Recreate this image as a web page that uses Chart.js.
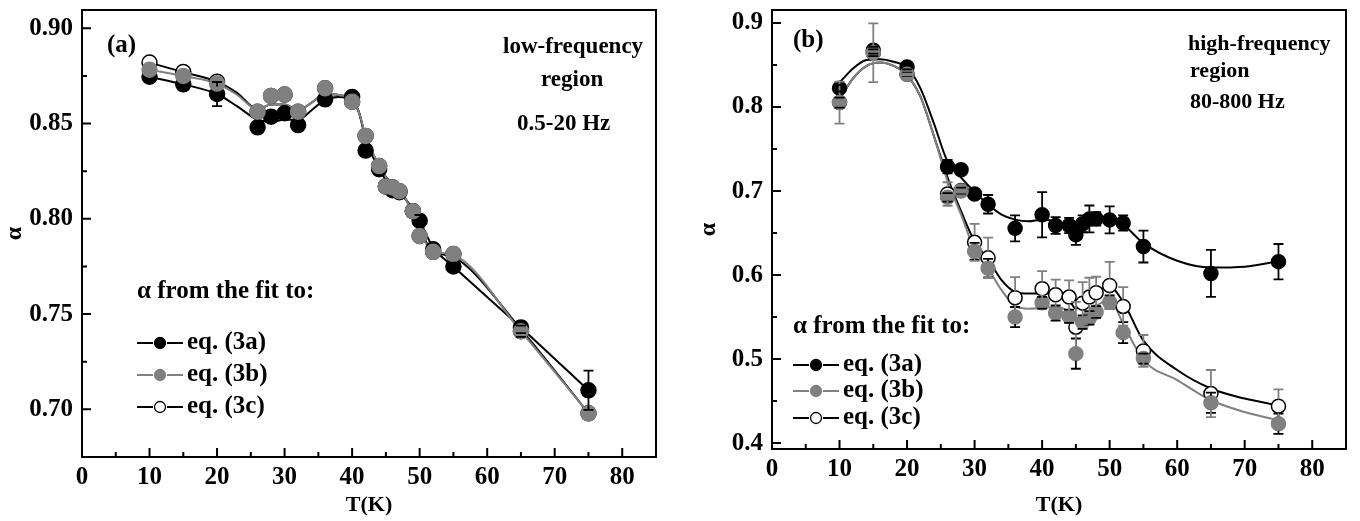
<!DOCTYPE html>
<html>
<head>
<meta charset="utf-8">
<script src="https://cdn.jsdelivr.net/npm/chart.js@4.4.1/dist/chart.umd.min.js"></script>
<style>
  html, body { margin: 0; padding: 0; background: #fff; }
  .wrap { position: absolute; top: 0; width: 680px; height: 521px; }
  #wa { left: 0; }
  #wb { left: 680px; }
</style>
</head>
<body>
<div class="wrap" id="wa"><canvas id="chartA" width="680" height="521"></canvas></div>
<div class="wrap" id="wb"><canvas id="chartB" width="680" height="521"></canvas></div>
<script>
// axis ticks
var tTicks = [0, 10, 20, 30, 40, 50, 60, 70, 80];
var tMinor = [5, 15, 25, 35, 45, 55, 65, 75];
var alphaTicksA = [0.70, 0.75, 0.80, 0.85, 0.90];
var alphaMinorA = [0.725, 0.775, 0.825, 0.875];
var alphaTicksB = [0.4, 0.5, 0.6, 0.7, 0.8, 0.9];
var alphaMinorB = [0.45, 0.55, 0.65, 0.75, 0.85];

// (a) low-frequency region, 0.5-20 Hz
var tA      = [10, 15, 20, 26, 28, 30, 32, 36, 40, 42, 44, 45, 46, 47, 49, 50, 52, 55, 65, 75];
var a3a     = [0.8746, 0.8706, 0.8655, 0.848, 0.8536, 0.8554, 0.8492, 0.8627, 0.864, 0.8358, 0.826, 0.817, 0.815, 0.814, 0.804, 0.799, 0.784, 0.775, 0.743, 0.710];
var a3aErr  = [0, 0, 0.0063, 0, 0, 0, 0, 0, 0, 0, 0, 0, 0, 0, 0, 0.003, 0, 0.002, 0.003, 0.0103];
var a3b     = [0.8783, 0.875, 0.871, 0.8562, 0.8645, 0.8652, 0.8562, 0.8685, 0.8615, 0.8435, 0.8277, 0.817, 0.8165, 0.8145, 0.804, 0.791, 0.7827, 0.7815, 0.741, 0.6979];
var a3bErr  = [0, 0, 0, 0, 0, 0, 0, 0, 0, 0, 0, 0, 0, 0, 0, 0, 0, 0, 0.003, 0];
var a3c     = [0.882, 0.877, 0.872, 0.8562, 0.8645, 0.8652, 0.8562, 0.8685, 0.8615, 0.8435, 0.8277, 0.817, 0.8165, 0.8145, 0.804, 0.791, 0.7827, 0.7815, 0.741, 0.6979];

// (a) smoothed lines through the points
var lineTA  = [10, 15, 20, 23, 26, 28, 30, 32, 34, 36, 38, 40, 41, 42, 44, 46, 48, 50, 52, 55, 65, 75];
var line3aA = [0.8746, 0.8706, 0.8655, 0.859, 0.852, 0.851, 0.852, 0.852, 0.857, 0.8625, 0.864, 0.862, 0.856, 0.842, 0.826, 0.816, 0.810, 0.799, 0.785, 0.775, 0.743, 0.710];
var line3bA = [0.8783, 0.875, 0.871, 0.865, 0.8575, 0.860, 0.860, 0.857, 0.861, 0.8655, 0.865, 0.8625, 0.856, 0.8435, 0.828, 0.817, 0.810, 0.793, 0.783, 0.781, 0.741, 0.698];
var line3cA = [0.882, 0.877, 0.872, 0.866, 0.8575, 0.860, 0.860, 0.857, 0.861, 0.8655, 0.865, 0.8625, 0.856, 0.843, 0.828, 0.817, 0.810, 0.794, 0.783, 0.780, 0.742, 0.698];

// (b) high-frequency region, 80-800 Hz
var tB      = [10, 15, 20, 26, 28, 30, 32, 36, 40, 42, 44, 45, 46, 47, 48, 50, 52, 55, 65, 75];
var b3a     = [0.8225, 0.8676, 0.8478, 0.729, 0.7254, 0.6966, 0.6843, 0.6556, 0.6718, 0.659, 0.659, 0.648, 0.661, 0.6668, 0.667, 0.6657, 0.662, 0.634, 0.602, 0.616];
var b3aErr  = [0.004, 0.004, 0.003, 0.008, 0.004, 0.003, 0.011, 0.0155, 0.027, 0.01, 0.009, 0.012, 0.01, 0.016, 0.008, 0.016, 0.009, 0.019, 0.028, 0.021];
var b3b     = [0.8053, 0.8647, 0.839, 0.6925, 0.700, 0.6284, 0.6082, 0.550, 0.567, 0.5548, 0.551, 0.5065, 0.544, 0.549, 0.556, 0.5678, 0.5315, 0.5006, 0.448, 0.423];
var b3bErr  = [0.006, 0.004, 0.003, 0.005, 0.004, 0.01, 0.011, 0.012, 0.007, 0.009, 0.008, 0.018, 0.008, 0.008, 0.007, 0.008, 0.0125, 0.006, 0.012, 0.012];
var b3c     = [0.8053, 0.8647, 0.839, 0.6965, 0.7007, 0.639, 0.6205, 0.573, 0.5837, 0.5766, 0.5738, 0.538, 0.5666, 0.5738, 0.579, 0.5876, 0.5627, 0.5097, 0.459, 0.444];
var b3cErr  = [0.025, 0.035, 0.004, 0.014, 0.006, 0.022, 0.024, 0.0245, 0.021, 0.018, 0.02, 0.03, 0.025, 0.023, 0.019, 0.028, 0.023, 0.019, 0.028, 0.02];

// (b) fitted curves
var fitTB   = [10, 12, 14, 16, 18, 20, 22, 24, 26, 28, 30, 32, 34, 36, 38, 40, 42, 44, 45, 46, 48, 50, 52, 55, 60, 65, 70, 75];
var fit3aB  = [0.829, 0.846, 0.856, 0.857, 0.854, 0.847, 0.822, 0.780, 0.735, 0.716, 0.699, 0.684, 0.672, 0.666, 0.664, 0.666, 0.664, 0.657, 0.653, 0.660, 0.668, 0.668, 0.660, 0.638, 0.617, 0.609, 0.610, 0.6165];
var fit3bB  = [0.809, 0.834, 0.849, 0.853, 0.849, 0.838, 0.812, 0.765, 0.712, 0.672, 0.630, 0.608, 0.582, 0.563, 0.560, 0.561, 0.562, 0.556, 0.546, 0.550, 0.563, 0.571, 0.542, 0.499, 0.475, 0.451, 0.437, 0.427];
var fit3cB  = [0.809, 0.834, 0.849, 0.853, 0.849, 0.838, 0.812, 0.765, 0.716, 0.676, 0.640, 0.619, 0.594, 0.580, 0.578, 0.578, 0.578, 0.570, 0.560, 0.566, 0.580, 0.586, 0.568, 0.522, 0.487, 0.465, 0.453, 0.445];

var GRAY = '#808080';
var serif = '"Liberation Serif", "Times New Roman", serif';

function pts(xs, ys) {
  return xs.map(function (x, i) { return { x: x, y: ys[i] }; });
}

function curve(xs, ys, color, order) {
  return {
    data: pts(xs, ys), showLine: true, pointRadius: 0, borderColor: color,
    borderWidth: 2, cubicInterpolationMode: 'monotone', order: order
  };
}

function marks(xs, ys, fill, edge, r, order, errs, errColor) {
  return {
    data: pts(xs, ys), showLine: false, pointRadius: r, pointHoverRadius: r,
    backgroundColor: fill, borderColor: edge, borderWidth: 1.5, order: order,
    errBars: errs ? { values: errs, color: errColor } : null
  };
}

// vertical error bars with caps, left open inside the marker
var errorBars = {
  id: 'errorBars',
  afterDatasetsDraw: function (chart) {
    var ctx = chart.ctx, xs = chart.scales.x, ys = chart.scales.y;
    ctx.save();
    ctx.lineWidth = 1.8;
    chart.data.datasets.forEach(function (ds) {
      if (!ds.errBars) return;
      ctx.strokeStyle = ds.errBars.color;
      ds.data.forEach(function (p, j) {
        var e = ds.errBars.values[j];
        if (!e) return;
        var px = xs.getPixelForValue(p.x);
        var py = ys.getPixelForValue(p.y);
        var top = ys.getPixelForValue(p.y + e);
        var bot = ys.getPixelForValue(p.y - e);
        var r = ds.pointRadius;
        ctx.beginPath();
        if (py - top > r) { ctx.moveTo(px, py - r); ctx.lineTo(px, top); }
        if (bot - py > r) { ctx.moveTo(px, py + r); ctx.lineTo(px, bot); }
        ctx.moveTo(px - 5, top); ctx.lineTo(px + 5, top);
        ctx.moveTo(px - 5, bot); ctx.lineTo(px + 5, bot);
        ctx.stroke();
      });
    });
    ctx.restore();
  }
};

// box frame, inward ticks, notes and the legend
var frameNotes = {
  id: 'frameNotes',
  afterDraw: function (chart, args, o) {
    var ctx = chart.ctx, a = chart.chartArea;
    var xs = chart.scales.x, ys = chart.scales.y;
    ctx.save();
    ctx.strokeStyle = '#000';
    ctx.lineWidth = 2;
    ctx.strokeRect(a.left, a.top, a.right - a.left, a.bottom - a.top);
    ctx.beginPath();
    tTicks.forEach(function (v) { var p = xs.getPixelForValue(v); ctx.moveTo(p, a.bottom); ctx.lineTo(p, a.bottom - 9); });
    tMinor.forEach(function (v) { var p = xs.getPixelForValue(v); ctx.moveTo(p, a.bottom); ctx.lineTo(p, a.bottom - 5); });
    o.yMajor.forEach(function (v) { var p = ys.getPixelForValue(v); ctx.moveTo(a.left, p); ctx.lineTo(a.left + 9, p); });
    o.yMinor.forEach(function (v) { var p = ys.getPixelForValue(v); ctx.moveTo(a.left, p); ctx.lineTo(a.left + 5, p); });
    ctx.stroke();

    ctx.fillStyle = '#000';
    ctx.textBaseline = 'middle';
    ctx.textAlign = 'left';
    o.texts.forEach(function (t) {
      ctx.font = 'bold ' + t[3] + 'px ' + serif;
      ctx.fillText(t[0], t[1], t[2]);
    });

    var L = o.legend;
    ctx.font = 'bold 25px ' + serif;
    ctx.fillText('\u03b1 from the fit to:', L.x, L.head);
    L.items.forEach(function (it, i) {
      var y = L.rows[i];
      ctx.strokeStyle = it.line;
      ctx.lineWidth = 2;
      ctx.beginPath();
      ctx.moveTo(L.x, y); ctx.lineTo(L.x + 16, y);
      ctx.moveTo(L.x + 30, y); ctx.lineTo(L.x + 46, y);
      ctx.stroke();
      ctx.beginPath();
      ctx.arc(L.x + 23, y, 5.5, 0, Math.PI * 2);
      ctx.fillStyle = it.fill;
      ctx.fill();
      ctx.lineWidth = 1.3;
      ctx.strokeStyle = it.edge;
      ctx.stroke();
      ctx.fillStyle = '#000';
      ctx.fillText(it.label, L.x + 50, y);
    });
    ctx.restore();
  }
};

var legendItems = [
  { label: 'eq. (3a)', line: '#000', fill: '#000', edge: '#000' },
  { label: 'eq. (3b)', line: GRAY, fill: GRAY, edge: GRAY },
  { label: 'eq. (3c)', line: '#000', fill: '#fff', edge: '#000' }
];

// keep the plot box fixed: no extra room for edge tick labels
function noEdgePadding(s) {
  s.paddingTop = 0; s.paddingBottom = 0; s.paddingLeft = 0; s.paddingRight = 0;
}

function makeChart(id, cfg) {
  return new Chart(document.getElementById(id), {
    type: 'scatter',
    data: { datasets: cfg.datasets },
    plugins: [errorBars, frameNotes],
    options: {
      responsive: false,
      animation: false,
      layout: { padding: { top: 10, right: cfg.padRight, left: 0, bottom: 0 } },
      plugins: {
        legend: { display: false },
        tooltip: { enabled: false },
        frameNotes: { yMajor: cfg.yTicks, yMinor: cfg.yMinor, texts: cfg.texts, legend: cfg.legend }
      },
      scales: {
        x: {
          type: 'linear', min: 0, max: 85,
          afterBuildTicks: function (s) { s.ticks = tTicks.map(function (v) { return { value: v }; }); },
          afterFit: function (s) { s.height = cfg.xHeight; noEdgePadding(s); },
          grid: { display: false, drawTicks: false },
          border: { display: false },
          ticks: { color: '#000', padding: 6, maxRotation: 0, font: { family: serif, size: 25, weight: 'bold' } },
          title: { display: true, text: 'T(K)', color: '#000', padding: { top: 0, bottom: cfg.xTitlePad },
                   font: { family: serif, size: 22, weight: 'bold' } }
        },
        y: {
          type: 'linear', min: cfg.yMin, max: cfg.yMax,
          afterBuildTicks: function (s) { s.ticks = cfg.yTicks.map(function (v) { return { value: v }; }); },
          afterFit: function (s) { s.width = cfg.yWidth; noEdgePadding(s); },
          grid: { display: false, drawTicks: false },
          border: { display: false },
          ticks: { color: '#000', padding: 9, font: { family: serif, size: 25, weight: 'bold' },
                   callback: function (v) { return v.toFixed(cfg.digits); } },
          title: { display: true, text: '\u03b1', color: '#000', padding: { top: cfg.yTitlePad, bottom: 0 },
                   font: { family: serif, size: 24, weight: 'bold' } }
        }
      }
    }
  });
}

makeChart('chartA', {
  padRight: 24, xHeight: 64, yWidth: 82, yMin: 0.675, yMax: 0.9096, digits: 2,
  yTicks: alphaTicksA, yMinor: alphaMinorA, xTitlePad: 2, yTitlePad: 0,
  datasets: [
    marks(tA, a3b, GRAY, GRAY, 7.5, 1, a3bErr, '#000'),
    marks(tA, a3c, '#fff', '#000', 7.5, 2, null, null),
    marks(tA, a3a, '#000', '#000', 7.5, 3, a3aErr, '#000'),
    curve(lineTA, line3bA, GRAY, 10),
    curve(lineTA, line3cA, '#000', 11),
    curve(lineTA, line3aA, '#000', 12)
  ],
  texts: [['(a)', 107, 46, 25], ['low-frequency', 503, 47, 23], ['region', 541, 80, 23], ['0.5-20 Hz', 517, 124, 23]],
  legend: { x: 137, head: 292, rows: [343, 375, 407], items: legendItems }
});

makeChart('chartB', {
  padRight: 14, xHeight: 72, yWidth: 92, yMin: 0.393, yMax: 0.9155, digits: 1,
  yTicks: alphaTicksB, yMinor: alphaMinorB, xTitlePad: 2, yTitlePad: 14,
  datasets: [
    marks(tB, b3b, GRAY, GRAY, 7, 1, b3bErr, '#000'),
    marks(tB, b3c, '#fff', '#000', 7, 2, b3cErr, GRAY),
    marks(tB, b3a, '#000', '#000', 7, 3, b3aErr, '#000'),
    curve(fitTB, fit3bB, GRAY, 10),
    curve(fitTB, fit3cB, '#000', 11),
    curve(fitTB, fit3aB, '#000', 12)
  ],
  texts: [['(b)', 113, 41, 25], ['high-frequency', 508, 44, 22], ['region', 510, 71, 22], ['80-800 Hz', 510, 102, 22]],
  legend: { x: 113, head: 327, rows: [365, 391, 418], items: legendItems }
});
</script>
</body>
</html>
